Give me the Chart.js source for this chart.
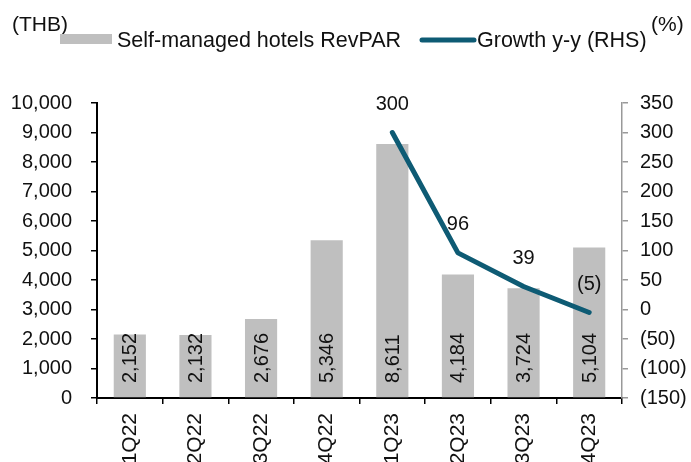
<!DOCTYPE html>
<html>
<head>
<meta charset="utf-8">
<script src="https://cdn.jsdelivr.net/npm/chart.js@4"></script>
<style>
  body { margin: 0; background: #fff; }
  #wrap { width: 691px; height: 462px; }
</style>
</head>
<body>
<div id="wrap"><canvas id="revpar-chart" width="691" height="462"></canvas></div>
<script>
const quarters = ["1Q22", "2Q22", "3Q22", "4Q22", "1Q23", "2Q23", "3Q23", "4Q23"];
const revpar = [2152, 2132, 2676, 5346, 8611, 4184, 3724, 5104];
const growth = [null, null, null, null, 300, 96, 39, -5];
const leftTicks = { min: 0, max: 10000, step: 1000 };
const rightTicks = { min: -150, max: 350, step: 50 };

const FONT = "'Liberation Sans', Arial, sans-serif";
const BAR_GREY = "#BFBFBF";
const LINE_TEAL = "#0E5B74";

const fmtNum = (v) => Number(v).toLocaleString("en-US");
const fmtPct = (v) => (v < 0 ? "(" + Math.abs(v) + ")" : String(v));

// value labels, legend and unit captions
const labelsPlugin = {
  id: "labels",
  afterDatasetsDraw(chart) {
    const ctx = chart.ctx;
    const base = chart.scales.y.getPixelForValue(0);

    // bar values, rotated, sitting near the bottom of each bar
    const barMeta = chart.getDatasetMeta(1);
    ctx.save();
    ctx.fillStyle = "#111";
    ctx.font = "20px " + FONT;
    ctx.textAlign = "left";
    ctx.textBaseline = "middle";
    barMeta.data.forEach((bar, i) => {
      ctx.save();
      ctx.translate(bar.x, base - 15);
      ctx.rotate(-Math.PI / 2);
      ctx.fillText(fmtNum(revpar[i]), 0, 1);
      ctx.restore();
    });

    // growth labels above the line points
    const lineMeta = chart.getDatasetMeta(0);
    ctx.textAlign = "center";
    lineMeta.data.forEach((pt, i) => {
      if (growth[i] === null) return;
      ctx.fillText(fmtPct(growth[i]), pt.x, pt.y - 28);
    });
    ctx.restore();
  },
  afterDraw(chart) {
    const ctx = chart.ctx;
    ctx.save();
    ctx.fillStyle = "#111";
    ctx.textBaseline = "middle";
    ctx.font = "21px " + FONT;
    ctx.textAlign = "left";
    ctx.fillText("(THB)", 12, 25);
    ctx.fillText("(%)", 651, 25);

    // legend
    ctx.font = "21.5px " + FONT;
    ctx.fillStyle = BAR_GREY;
    ctx.fillRect(60, 34, 52, 10);
    ctx.fillStyle = "#111";
    ctx.fillText("Self-managed hotels RevPAR", 117, 41);

    ctx.strokeStyle = LINE_TEAL;
    ctx.lineWidth = 5;
    ctx.lineCap = "round";
    ctx.beginPath();
    ctx.moveTo(422, 40);
    ctx.lineTo(474, 40);
    ctx.stroke();
    ctx.fillText("Growth y-y (RHS)", 477, 41);
    ctx.restore();
  }
};

new Chart(document.getElementById("revpar-chart"), {
  type: "bar",
  data: {
    labels: quarters,
    datasets: [
      {
        type: "line",
        label: "Growth y-y (RHS)",
        data: growth,
        yAxisID: "y1",
        borderColor: LINE_TEAL,
        borderWidth: 5,
        borderCapStyle: "round",
        borderJoinStyle: "round",
        pointRadius: 0,
        tension: 0,
        fill: false
      },
      {
        label: "Self-managed hotels RevPAR",
        data: revpar,
        yAxisID: "y",
        backgroundColor: BAR_GREY,
        barPercentage: 0.49,
        categoryPercentage: 1
      }
    ]
  },
  options: {
    responsive: false,
    animation: false,
    layout: { padding: { top: 103, left: 0, right: 0, bottom: 0 } },
    plugins: {
      legend: { display: false },
      tooltip: { enabled: false }
    },
    scales: {
      x: {
        offset: true,
        afterFit: (s) => { s.height = 64; },
        grid: { offset: true, drawOnChartArea: false, tickLength: 6, color: "#000", lineWidth: 1.5 },
        border: { color: "#000", width: 2 },
        ticks: {
          autoSkip: false,
          maxRotation: 90,
          minRotation: 90,
          padding: 9,
          color: "#111",
          font: { family: FONT, size: 21 }
        }
      },
      y: {
        position: "left",
        min: leftTicks.min,
        max: leftTicks.max,
        afterFit: (s) => { s.width = 97; },
        grid: { drawOnChartArea: false, tickLength: 6, color: "#000", lineWidth: 1.5 },
        border: { color: "#000", width: 2 },
        ticks: {
          stepSize: leftTicks.step,
          padding: 19,
          color: "#111",
          font: { family: FONT, size: 20 },
          callback: (v) => fmtNum(v)
        }
      },
      y1: {
        position: "right",
        min: rightTicks.min,
        max: rightTicks.max,
        afterFit: (s) => { s.width = 69; },
        grid: { drawOnChartArea: false, tickLength: 6, color: "#999", lineWidth: 1.5 },
        border: { color: "#999", width: 1.5 },
        ticks: {
          stepSize: rightTicks.step,
          padding: 12,
          color: "#111",
          font: { family: FONT, size: 20 },
          callback: (v) => fmtPct(v)
        }
      }
    }
  },
  plugins: [labelsPlugin]
});
</script>
</body>
</html>
